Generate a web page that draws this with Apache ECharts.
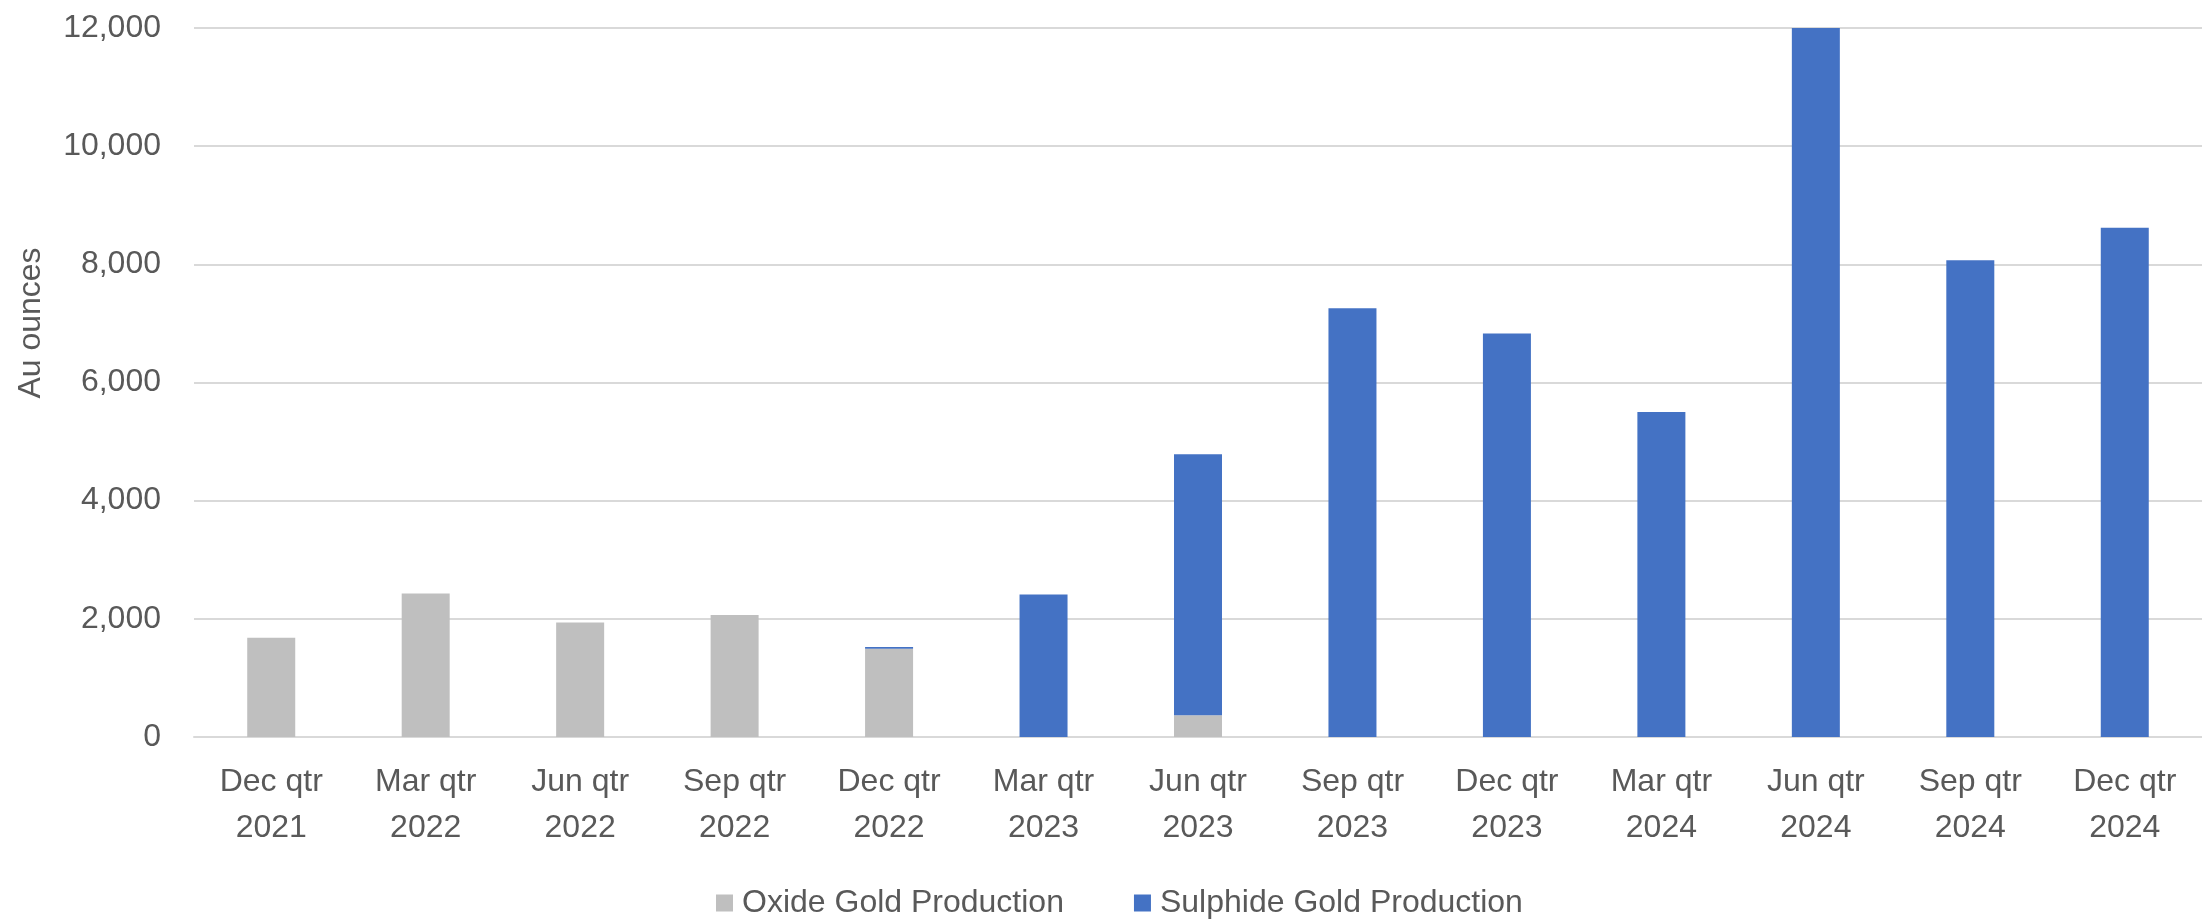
<!DOCTYPE html>
<html>
<head>
<meta charset="utf-8">
<script src="https://cdn.jsdelivr.net/npm/echarts@6/dist/echarts.min.js"></script>
<style>
html,body{margin:0;padding:0;background:#fff;}
#chart{width:2202px;height:919px;}
</style>
</head>
<body>
<div id="chart"></div>
<script>
const categories = ['Dec qtr\n2021','Mar qtr\n2022','Jun qtr\n2022','Sep qtr\n2022','Dec qtr\n2022','Mar qtr\n2023','Jun qtr\n2023','Sep qtr\n2023','Dec qtr\n2023','Mar qtr\n2024','Jun qtr\n2024','Sep qtr\n2024','Dec qtr\n2024'];
const oxideGold = [1680, 2430, 1940, 2065, 1495, 0, 367, 0, 0, 0, 0, 0, 0];
const sulphideGold = [0, 0, 0, 0, 30, 2410, 4418, 7256, 6828, 5500, 12000, 8070, 8620];
const seriesNames = ['Oxide Gold Production', 'Sulphide Gold Production'];
const yTicks = {min: 0, max: 12000, interval: 2000};
const yAxisTitle = 'Au ounces';

const FONT = '"Liberation Sans", Arial, sans-serif';
const TXT = '#595959';
const chart = echarts.init(document.getElementById('chart'), null, {renderer: 'canvas'});
chart.setOption({
  animation: false,
  backgroundColor: '#ffffff',
  grid: {left: 194, right: -26, top: 28, bottom: 182, containLabel: false},
  legend: {
    data: seriesNames,
    left: 711, top: 880,
    icon: 'rect', itemWidth: 17, itemHeight: 17, itemGap: 70,
    textStyle: {fontFamily: FONT, fontSize: 32, color: TXT, lineHeight: 36, padding: [0, 0, 0, 4]}
  },
  xAxis: {
    type: 'category',
    data: categories,
    axisTick: {show: false},
    axisLine: {lineStyle: {color: '#d9d9d9', width: 2}},
    axisLabel: {interval: 0, margin: 22, fontFamily: FONT, fontSize: 32, lineHeight: 46, color: TXT}
  },
  yAxis: {
    type: 'value',
    min: yTicks.min, max: yTicks.max, interval: yTicks.interval,
    axisLine: {show: false}, axisTick: {show: false},
    splitLine: {lineStyle: {color: '#d9d9d9', width: 2}},
    axisLabel: {margin: 33, fontFamily: FONT, fontSize: 32, color: TXT,
      formatter: v => v.toLocaleString('en-US')}
  },
  graphic: [{
    type: 'text', x: 31, y: 323, rotation: Math.PI / 2,
    style: {text: yAxisTitle, fontFamily: FONT, fontSize: 32, fill: TXT, align: 'center', verticalAlign: 'middle'}
  }],
  series: [
    {name: seriesNames[0], type: 'bar', stack: 'gold', data: oxideGold, barWidth: 48,
      itemStyle: {color: '#bfbfbf'}},
    {name: seriesNames[1], type: 'bar', stack: 'gold', data: sulphideGold, barWidth: 48,
      itemStyle: {color: '#4472c4'}}
  ]
});
</script>
</body>
</html>
